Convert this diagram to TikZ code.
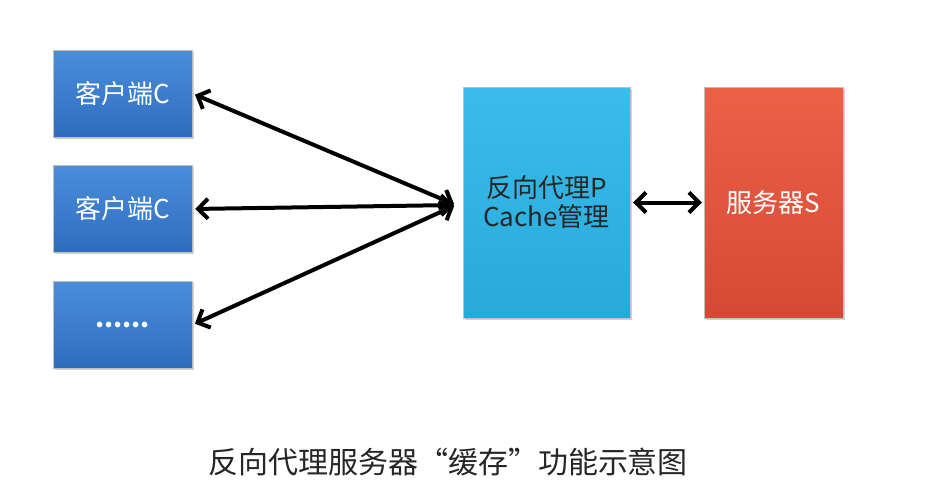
\documentclass[tikz,border=0pt]{standalone}
\usepackage{fontspec}
\setmainfont{Noto Sans CJK SC}
\newfontfamily\cjk{Noto Sans CJK SC}
\usetikzlibrary{shadows,arrows.meta}
\definecolor{cliTop}{HTML}{4A8EDB}
\definecolor{cliBot}{HTML}{2E6DBE}
\definecolor{pxTop}{HTML}{3ABDEB}
\definecolor{pxBot}{HTML}{27A9DA}
\definecolor{svTop}{HTML}{EC6048}
\definecolor{svBot}{HTML}{D44A34}
\tikzset{
  box/.style={minimum width=139pt, draw=black!25, line width=0.4pt, drop shadow={shadow xshift=1.5pt, shadow yshift=-1.5pt, opacity=0.35}, font=\cjk\fontsize{26}{32}\selectfont, align=center, inner sep=0pt},
  cli/.style={box, minimum height=87pt, top color=cliTop, bottom color=cliBot, text=white},
  px/.style={box, minimum width=167pt, minimum height=231pt, top color=pxTop, bottom color=pxBot, text=black!85},
  sv/.style={box, minimum height=231pt, top color=svTop, bottom color=svBot, text=white},
  link/.style={{Straight Barb[length=10pt,width=20pt,line width=4pt]}-{Straight Barb[length=10pt,width=20pt,line width=4pt]}, line width=4pt, black, shorten <=3pt, shorten >=2pt}
}
\begin{document}
\begin{tikzpicture}[x=1pt,y=-1pt]
\useasboundingbox[fill=white] (0,0) rectangle (938,498);
\node[cli] (c1) at (122.5,93.5) {客户端C};
\node[cli] (c2) at (122.5,209) {客户端C};
\node[cli] (c3) at (122.5,325) {\textbf{......}};
\node[px] (p) at (546.5,202.5) {反向代理P\\[-3pt]Cache管理};
\node[sv] (s) at (773.5,202.5) {服务器S};
\coordinate (hub) at (456,205);
\draw[link] (c1.east) -- (hub);
\draw[link] (c2.east) -- (hub);
\draw[link] (c3.east) -- (hub);
\draw[link] (p.east) -- (s.west);
\node[font=\cjk\fontsize{30}{34}\selectfont, text=black!85] (cap) at (448,462) {反向代理服务器“缓存”功能示意图};
\end{tikzpicture}
\end{document}
